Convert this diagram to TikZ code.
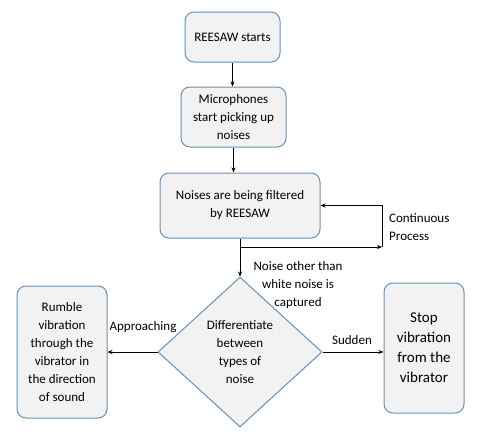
\documentclass[tikz,border=0pt]{standalone}
\usepackage{fontspec}
\setmainfont{Carlito}
\usetikzlibrary{shapes.geometric,arrows.meta}
\definecolor{boxline}{HTML}{6A90B8}
\definecolor{boxfill}{HTML}{F2F2F2}
\begin{document}
\begin{tikzpicture}[x=1pt,y=-1pt,
  flowbox/.style={draw=boxline,fill=boxfill,line width=1pt,rounded corners=9pt,align=center,inner sep=0pt,font=\fontsize{13}{18}\selectfont},
  decbox/.style={draw=boxline,fill=boxfill,line width=1pt,diamond,aspect=1.09,inner sep=0pt,align=center,font=\fontsize{13}{18}\selectfont},
  arr/.style={draw=black,line width=0.6pt,-{Stealth[length=5pt,width=4pt]}},
  lbl/.style={font=\fontsize{13}{18}\selectfont,align=center,inner sep=0pt}]
\useasboundingbox (0,0) rectangle (480,437);
\node[flowbox,minimum width=95pt,minimum height=50pt] (b1) at (232.5,37) {REESAW starts};
\node[flowbox,minimum width=105pt,minimum height=60pt] (b2) at (233.5,117) {Microphones\\start picking up\\noises};
\node[flowbox,minimum width=160pt,minimum height=65pt] (b3) at (240,205.5) {Noises are being filtered\\by REESAW};
\node[decbox,minimum width=164pt,minimum height=150pt] (d) at (240,352) {Differentiate\\between\\types of\\noise};
\node[flowbox,minimum width=90pt,minimum height=132pt] (bl) at (62,352) {Rumble\\vibration\\through the\\vibrator in\\the direction\\of sound};
\node[flowbox,minimum width=80pt,minimum height=130pt,font=\fontsize{15}{20}\selectfont] (br) at (424,348) {Stop\\vibration\\from the\\vibrator};
\coordinate (c1) at (382,247);
\draw[arr] (b1.south) -- (b1.south |- b2.north);
\draw[arr] (b2.south) -- (b2.south |- b3.north);
\draw[arr] (b3.south) |- (c1);
\draw[arr] (c1) |- (b3.east);
\draw[arr] (b3.south) -- (d.north);
\draw[arr] (d.west) -- (bl.east);
\draw[arr] (d.east) -- (br.west |- d.east);
\node[lbl,align=left,anchor=west] (cp) at (389,227) {Continuous\\Process};
\node[lbl] (no) at (298,285) {Noise other than\\white noise is\\captured};
\node[lbl] (ap) at (143,327) {Approaching};
\node[lbl] (su) at (352,340) {Sudden};
\end{tikzpicture}
\end{document}
